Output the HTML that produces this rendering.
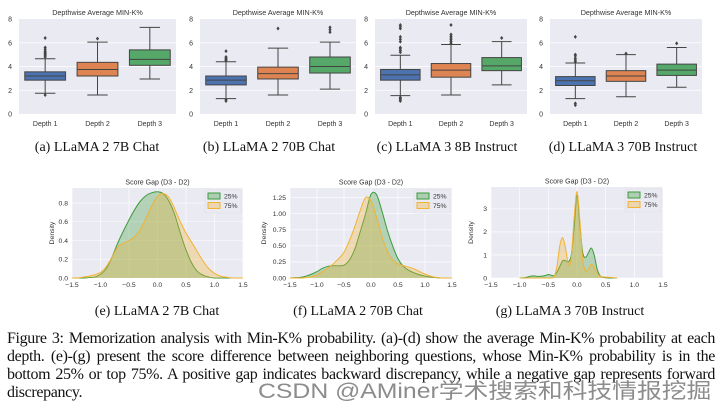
<!DOCTYPE html>
<html><head><meta charset="utf-8">
<style>
body{margin:0;background:#fff;width:720px;height:408px;overflow:hidden;position:relative;font-family:"Liberation Serif",serif}
svg{position:absolute;left:0;top:0}
.cap{position:absolute;left:7px;width:708px;font-size:16px;line-height:18px;color:#111;text-align:justify;text-align-last:justify;white-space:nowrap;letter-spacing:-0.35px}
.wm{position:absolute;left:258px;top:375px;font-family:"Liberation Sans","Noto Sans CJK SC",sans-serif;font-size:21px;color:rgba(120,120,120,0.85);white-space:nowrap;transform:scaleX(1.18);transform-origin:0 0}
</style></head><body>
<svg id="fig" width="720" height="408" viewBox="0 0 720 408"></svg>
<div class="cap" style="top:330px">Figure 3: Memorization analysis with Min-K% probability. (a)-(d) show the average Min-K% probability at each</div>
<div class="cap" style="top:348px">depth. (e)-(g) present the score difference between neighboring questions, whose Min-K% probability is in the</div>
<div class="cap" style="top:366px">bottom 25% or top 75%. A positive gap indicates backward discrepancy, while a negative gap represents forward</div>
<div class="cap" style="top:384px;text-align-last:left">discrepancy.</div>
<div class="wm">CSDN @AMiner学术搜索和科技情报挖掘</div>
<script>
// ---- box plot data: [q1, median, q3, whiskerLow, whiskerHigh]
const depthCats = ["Depth 1","Depth 2","Depth 3"];
const boxA = [[2.85,3.2,3.55,1.75,4.65],[3.2,3.75,4.35,1.6,6.05],[4.1,4.6,5.4,2.95,7.3]];
const outA = [[1.6,4.8,4.9,5.0,5.1,5.2,5.3,5.45,5.6,6.4],[6.35],[]];
const boxB = [[2.45,2.85,3.2,1.3,4.4],[2.95,3.4,3.95,1.6,5.55],[3.45,4.0,4.8,2.1,6.05]];
const outB = [[1.1,1.2,4.5,4.6,4.7,4.8,5.3],[7.2],[6.9,7.1,7.3]];
const boxC = [[2.85,3.3,3.75,1.55,4.95],[3.1,3.7,4.25,1.6,5.85],[3.65,4.05,4.75,2.45,6.1]];
const outC = [[1.1,1.2,1.3,1.4,5.2,5.35,5.5,5.6,6.1,6.3,6.5,7.2,7.35,7.5],[5.95,6.1,6.25,6.4,6.55,6.7,7.5],[6.4]];
const boxD = [[2.4,2.8,3.15,1.3,4.3],[2.75,3.2,3.65,1.45,5.0],[3.25,3.7,4.2,2.25,5.6]];
const outD = [[0.75,0.9,4.4,4.55,4.7,4.9,5.0,6.5],[5.1],[5.95]];
const boxTicks = [0,2,4,6,8];
// ---- KDE data
const gridEF = [-1.5,-1.4,-1.3,-1.2,-1.1,-1.0,-0.9,-0.8,-0.7,-0.6,-0.5,-0.4,-0.3,-0.2,-0.1,0,0.1,0.2,0.3,0.4,0.5,0.6,0.7,0.8,0.9,1.0,1.1,1.2,1.3,1.4,1.5];
const eGreen = [0,0,0,0.005,0.01,0.04,0.1,0.22,0.37,0.5,0.62,0.73,0.82,0.88,0.91,0.92,0.9,0.82,0.68,0.48,0.3,0.16,0.07,0.03,0.01,0,0,0,0,0,0];
const eOrange = [0,0,0.01,0.02,0.035,0.06,0.12,0.22,0.33,0.37,0.4,0.44,0.52,0.64,0.77,0.87,0.9,0.86,0.74,0.6,0.48,0.38,0.28,0.18,0.1,0.05,0.02,0.01,0,0,0];
const fGreen = [0,0.005,0.01,0.03,0.06,0.1,0.15,0.18,0.19,0.19,0.2,0.28,0.45,0.72,1.0,1.3,1.3,1.05,0.75,0.5,0.3,0.18,0.12,0.08,0.05,0.03,0.015,0.005,0,0,0];
const fOrange = [0,0,0,0.005,0.02,0.05,0.1,0.15,0.22,0.3,0.4,0.58,0.8,1.05,1.25,1.2,0.95,0.65,0.42,0.28,0.22,0.19,0.17,0.14,0.1,0.06,0.03,0.01,0,0,0];
const gridG = [-1.0,-0.95,-0.9,-0.85,-0.8,-0.75,-0.7,-0.65,-0.6,-0.55,-0.5,-0.45,-0.4,-0.35,-0.3,-0.25,-0.2,-0.15,-0.1,-0.05,0,0.05,0.1,0.15,0.2,0.25,0.3,0.35,0.4,0.45,0.5,0.55,0.6,0.65,0.7];
const gGreen = [0,0.01,0.02,0.05,0.08,0.09,0.07,0.07,0.08,0.11,0.15,0.12,0.1,0.25,0.5,0.75,0.75,0.7,1.0,2.2,3.6,2.3,1.1,0.9,1.1,1.3,1.0,0.4,0.1,0.03,0.01,0,0,0,0];
const gOrange = [0,0,0,0,0,0,0,0,0,0,0,0,0.05,0.5,1.4,1.75,1.3,0.6,0.9,2.6,3.75,2.5,0.8,0.3,0.4,0.6,0.45,0.2,0.08,0.05,0.04,0.03,0.02,0.01,0];
const kdeXTicks = [-1.5,-1.0,-0.5,0.0,0.5,1.0,1.5];
const eYTicks = [0,0.2,0.4,0.6,0.8];
const fYTicks = [0,0.25,0.5,0.75,1.0,1.25];
const gYTicks = [0,1,2,3];

const svg = document.getElementById('fig');
const NS = 'http://www.w3.org/2000/svg';
function mk(tag, attrs, parent){const e=document.createElementNS(NS,tag);for(const k in attrs)e.setAttribute(k,attrs[k]);(parent||svg).appendChild(e);return e;}
function txt(s, attrs, parent){const e=mk('text',Object.assign({'font-family':'Liberation Sans, sans-serif','fill':'#333'},attrs),parent);e.textContent=s;return e;}

const boxColors=['#4c72b0','#dd8452','#55a868'];
function boxPanel(name,x0,x1,y0,y1,boxes,outs,caption,capX){
  const g=mk('g',{});
  
  
  const ys=v=>y1-(v/8)*(y1-y0);
  const bg=mk('rect',{x:x0,y:y0,width:x1-x0,height:y1-y0,fill:'#eaeaf2'},g);
  
  
  boxTicks.forEach(t=>{
    if(t>0&&t<8) mk('line',{x1:x0,x2:x1,y1:ys(t),y2:ys(t),stroke:'#fff','stroke-width':0.8},g);
    const l=txt(String(t),{x:x0-7,y:ys(t)+2.5,'font-size':7,'text-anchor':'end'},g);
    
    
  });
  const t=txt('Depthwise Average MIN-K%',{x:(x0+x1)/2,y:y0-4,'font-size':7.2,'text-anchor':'middle'},g);
  
  
  const bw=(x1-x0)/3;
  boxes.forEach((b,i)=>{
    const cx=x0+bw*(i+0.5), w=bw*0.78;
    const bg2=mk('g',{},g);
    
    
    const st={stroke:'#444','stroke-width':1};
    mk('line',Object.assign({x1:cx,x2:cx,y1:ys(b[3]),y2:ys(b[0])},st),bg2);
    mk('line',Object.assign({x1:cx,x2:cx,y1:ys(b[2]),y2:ys(b[4])},st),bg2);
    mk('line',Object.assign({x1:cx-w/4,x2:cx+w/4,y1:ys(b[3]),y2:ys(b[3])},st),bg2);
    mk('line',Object.assign({x1:cx-w/4,x2:cx+w/4,y1:ys(b[4]),y2:ys(b[4])},st),bg2);
    mk('rect',Object.assign({x:cx-w/2,y:ys(b[2]),width:w,height:ys(b[0])-ys(b[2]),fill:boxColors[i]},st),bg2);
    mk('line',Object.assign({x1:cx-w/2,x2:cx+w/2,y1:ys(b[1]),y2:ys(b[1])},st),bg2);
    outs[i].forEach(o=>mk('path',{d:`M${cx},${ys(o)-2}L${cx+1.6},${ys(o)}L${cx},${ys(o)+2}L${cx-1.6},${ys(o)}Z`,fill:'#444'},bg2));
    const xl=txt(depthCats[i],{x:cx,y:y1+12,'font-size':7,'text-anchor':'middle'},g);
    
    
  });
  const c=txt(caption,{x:capX,y:151,'font-size':14,'text-anchor':'middle','font-family':'Liberation Serif, serif',fill:'#111'},g);
  
  
}
boxPanel('boxplot-llama2-7b',19,176,19,114,boxA,outA,'(a) LLaMA 2 7B Chat',97);
boxPanel('boxplot-llama2-70b',200,356,19,114,boxB,outB,'(b) LLaMA 2 70B Chat',269);
boxPanel('boxplot-llama3-8b',375,527,19,114,boxC,outC,'(c) LLaMA 3 8B Instruct',447);
boxPanel('boxplot-llama3-70b',550,702,19,114,boxD,outD,'(d) LLaMA 3 70B Instruct',623);

function smoothPath(pts){
  let d=`M${pts[0][0]},${pts[0][1]}`;
  for(let i=0;i<pts.length-1;i++){
    const p0=pts[Math.max(i-1,0)],p1=pts[i],p2=pts[i+1],p3=pts[Math.min(i+2,pts.length-1)];
    const c1x=p1[0]+(p2[0]-p0[0])/6,c1y=p1[1]+(p2[1]-p0[1])/6;
    const c2x=p2[0]-(p3[0]-p1[0])/6,c2y=p2[1]-(p3[1]-p1[1])/6;
    d+=`C${c1x},${c1y},${c2x},${c2y},${p2[0]},${p2[1]}`;
  }
  return d;
}
function kdePanel(name,x0,x1,y0,y1,ymax,yTicks,yFmt,grid,green,orange,caption,capX){
  const g=mk('g',{});
  
  
  const xs=v=>x0+(v+1.5)/3*(x1-x0);
  const ys=v=>y1-(v/ymax)*(y1-y0);
  const bg=mk('rect',{x:x0,y:y0,width:x1-x0,height:y1-y0,fill:'#eaeaf2'},g);
  
  
  kdeXTicks.forEach(t=>{
    mk('line',{x1:xs(t),x2:xs(t),y1:y0,y2:y1,stroke:'#fff','stroke-width':0.6},g);
    const l=txt((t<0?'\u2212':'')+Math.abs(t).toFixed(1),{x:xs(t),y:y1+9,'font-size':6.8,'text-anchor':'middle'},g);
    
    
  });
  yTicks.forEach(t=>{
    mk('line',{x1:x0,x2:x1,y1:ys(t),y2:ys(t),stroke:'#fff','stroke-width':0.6},g);
    const l=txt(t.toFixed(yFmt),{x:x0-4,y:ys(t)+2.3,'font-size':6.8,'text-anchor':'end'},g);
    
    
  });
  const yl=txt('Density',{x:0,y:0,'font-size':6.8,'text-anchor':'middle',transform:`translate(${x0-(yFmt===2?24:18)},${(y0+y1)/2}) rotate(-90)`},g);
  
  
  const t=txt('Score Gap (D3 - D2)',{x:(x0+x1)/2,y:y0-3.5,'font-size':7,'text-anchor':'middle'},g);
  
  
  [[green,'#3c9a3c','kde-25pct'],[orange,'#f2b233','kde-75pct']].forEach(([vals,col,nm])=>{
    const pts=grid.map((x,i)=>[xs(x),ys(vals[i])]);
    const line=smoothPath(pts);
    const f=mk('path',{d:line+`L${pts[pts.length-1][0]},${y1}L${pts[0][0]},${y1}Z`,fill:col,'fill-opacity':0.32},g);
    
    
    const l=mk('path',{d:line,fill:'none',stroke:col,'stroke-width':1},g);
    
    
  });
  const lg=mk('g',{},g);
  
  
  const lx=x1-38,ly=y0+2;
  mk('rect',{x:lx,y:ly,width:36,height:23,fill:'#eaeaf2',stroke:'#ddd','stroke-width':0.6,rx:1.5},lg);
  [['25%','#3c9a3c'],['75%','#f2b233']].forEach(([lab,col],i)=>{
    mk('rect',{x:lx+3,y:ly+3+i*9.5,width:12,height:6,fill:col,'fill-opacity':0.35,stroke:col,'stroke-width':1},lg);
    const e=txt(lab,{x:lx+19,y:ly+8.5+i*9.5,'font-size':6.8},lg);
    
    
  });
  const c=txt(caption,{x:capX,y:315,'font-size':14,'text-anchor':'middle','font-family':'Liberation Serif, serif',fill:'#111'},g);
  
  
}
kdePanel('kde-llama2-7b',72,243,188,278,0.96,eYTicks,1,gridEF,eGreen,eOrange,'(e) LLaMA 2 7B Chat',157);
kdePanel('kde-llama2-70b',290,452,188,278,1.40,fYTicks,2,gridEF,fGreen,fOrange,'(f) LLaMA 2 70B Chat',358);
kdePanel('kde-llama3-70b',491,663,187,278,3.95,gYTicks,0,gridG,gGreen,gOrange,'(g) LLaMA 3 70B Instruct',570);
</script>
</body></html>
